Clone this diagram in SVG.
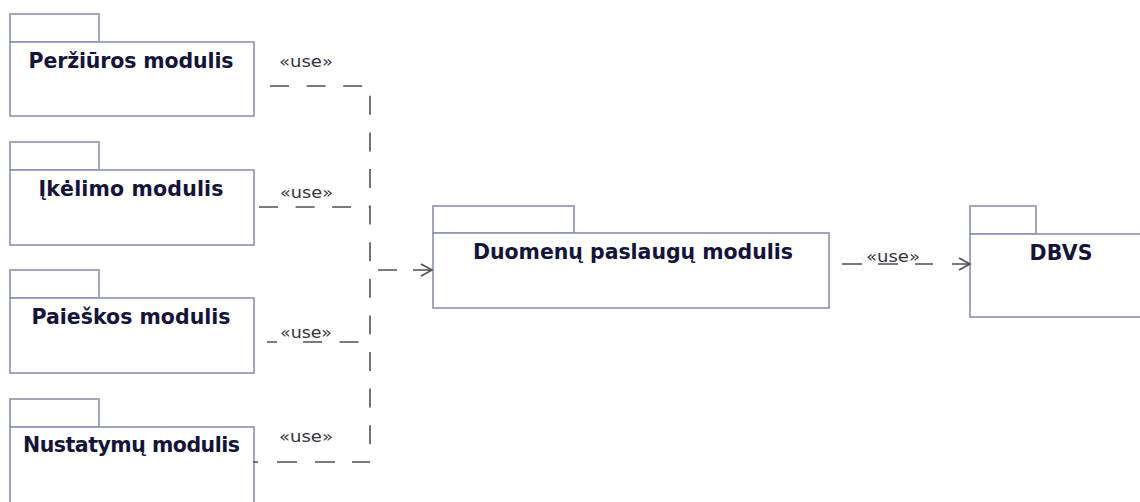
<svg xmlns="http://www.w3.org/2000/svg" width="1140" height="502" viewBox="0 0 1140 502">
<style>
.pk{fill:#ffffff;stroke:#8a91b4;stroke-width:1.6}
.nm{font-family:"DejaVu Sans","Liberation Sans",sans-serif;font-weight:bold;font-size:20.5px;fill:#14143a;text-anchor:middle}
.st{font-family:"DejaVu Sans","Liberation Sans",sans-serif;font-size:15.5px;fill:#333344}
.cn{fill:none;stroke:#505050;stroke-width:1.6}
</style>
<rect width="1140" height="502" fill="#ffffff"/>
<g id="peziuros">
<rect class="pk" x="10" y="14" width="89" height="28"/>
<rect class="pk" x="10" y="42" width="244" height="74"/>
<text class="nm" x="131" y="68" textLength="205">Peržiūros modulis</text>
</g>
<g id="ikelimo">
<rect class="pk" x="10" y="142" width="89" height="28"/>
<rect class="pk" x="10" y="170" width="244" height="75"/>
<text class="nm" x="131" y="196" textLength="185">Įkėlimo modulis</text>
</g>
<g id="paieskos">
<rect class="pk" x="10" y="270" width="89" height="28"/>
<rect class="pk" x="10" y="298" width="244" height="75"/>
<text class="nm" x="131" y="324" textLength="199">Paieškos modulis</text>
</g>
<g id="nustatymu">
<rect class="pk" x="10" y="399" width="89" height="28"/>
<rect class="pk" x="10" y="427" width="244" height="90"/>
<text class="nm" x="131.5" y="452" textLength="217">Nustatymų modulis</text>
</g>
<g id="duomenu">
<rect class="pk" x="433" y="206" width="141" height="27"/>
<rect class="pk" x="433" y="233" width="396" height="75"/>
<text class="nm" x="633" y="259" textLength="320">Duomenų paslaugų modulis</text>
</g>
<g id="dbvs">
<rect class="pk" x="970" y="206" width="66" height="28"/>
<rect class="pk" x="970" y="234" width="190" height="83"/>
<text class="nm" x="1061" y="260" textLength="63">DBVS</text>
</g>
<g id="connectors">
<path class="cn" d="M270,86 H370 V462" stroke-dasharray="19 17.6"/>
<path class="cn" d="M259,207 H370" stroke-dasharray="19 17.6"/>
<path class="cn" d="M267,342 H370" stroke-dasharray="10 26 19 17.6 19 40"/>
<path class="cn" d="M253,462 H370" stroke-dasharray="5 19 20 18 20 17 18"/>
<path class="cn" d="M378,270 H432" stroke-dasharray="19 16 19"/>
<path class="cn" d="M421,264 L432,270 L421,276"/>
<path class="cn" d="M842,264 H970" stroke-dasharray="20 16 20 17 18 19 18"/>
<path class="cn" d="M959,258 L970,264 L959,270"/>
<text class="st" x="279" y="67" textLength="54" lengthAdjust="spacingAndGlyphs">«use»</text>
<text class="st" x="280" y="198" textLength="53" lengthAdjust="spacingAndGlyphs">«use»</text>
<text class="st" x="280" y="338" textLength="52" lengthAdjust="spacingAndGlyphs">«use»</text>
<text class="st" x="279" y="442" textLength="54" lengthAdjust="spacingAndGlyphs">«use»</text>
<text class="st" x="866" y="262" textLength="54" lengthAdjust="spacingAndGlyphs">«use»</text>
</g>
</svg>
